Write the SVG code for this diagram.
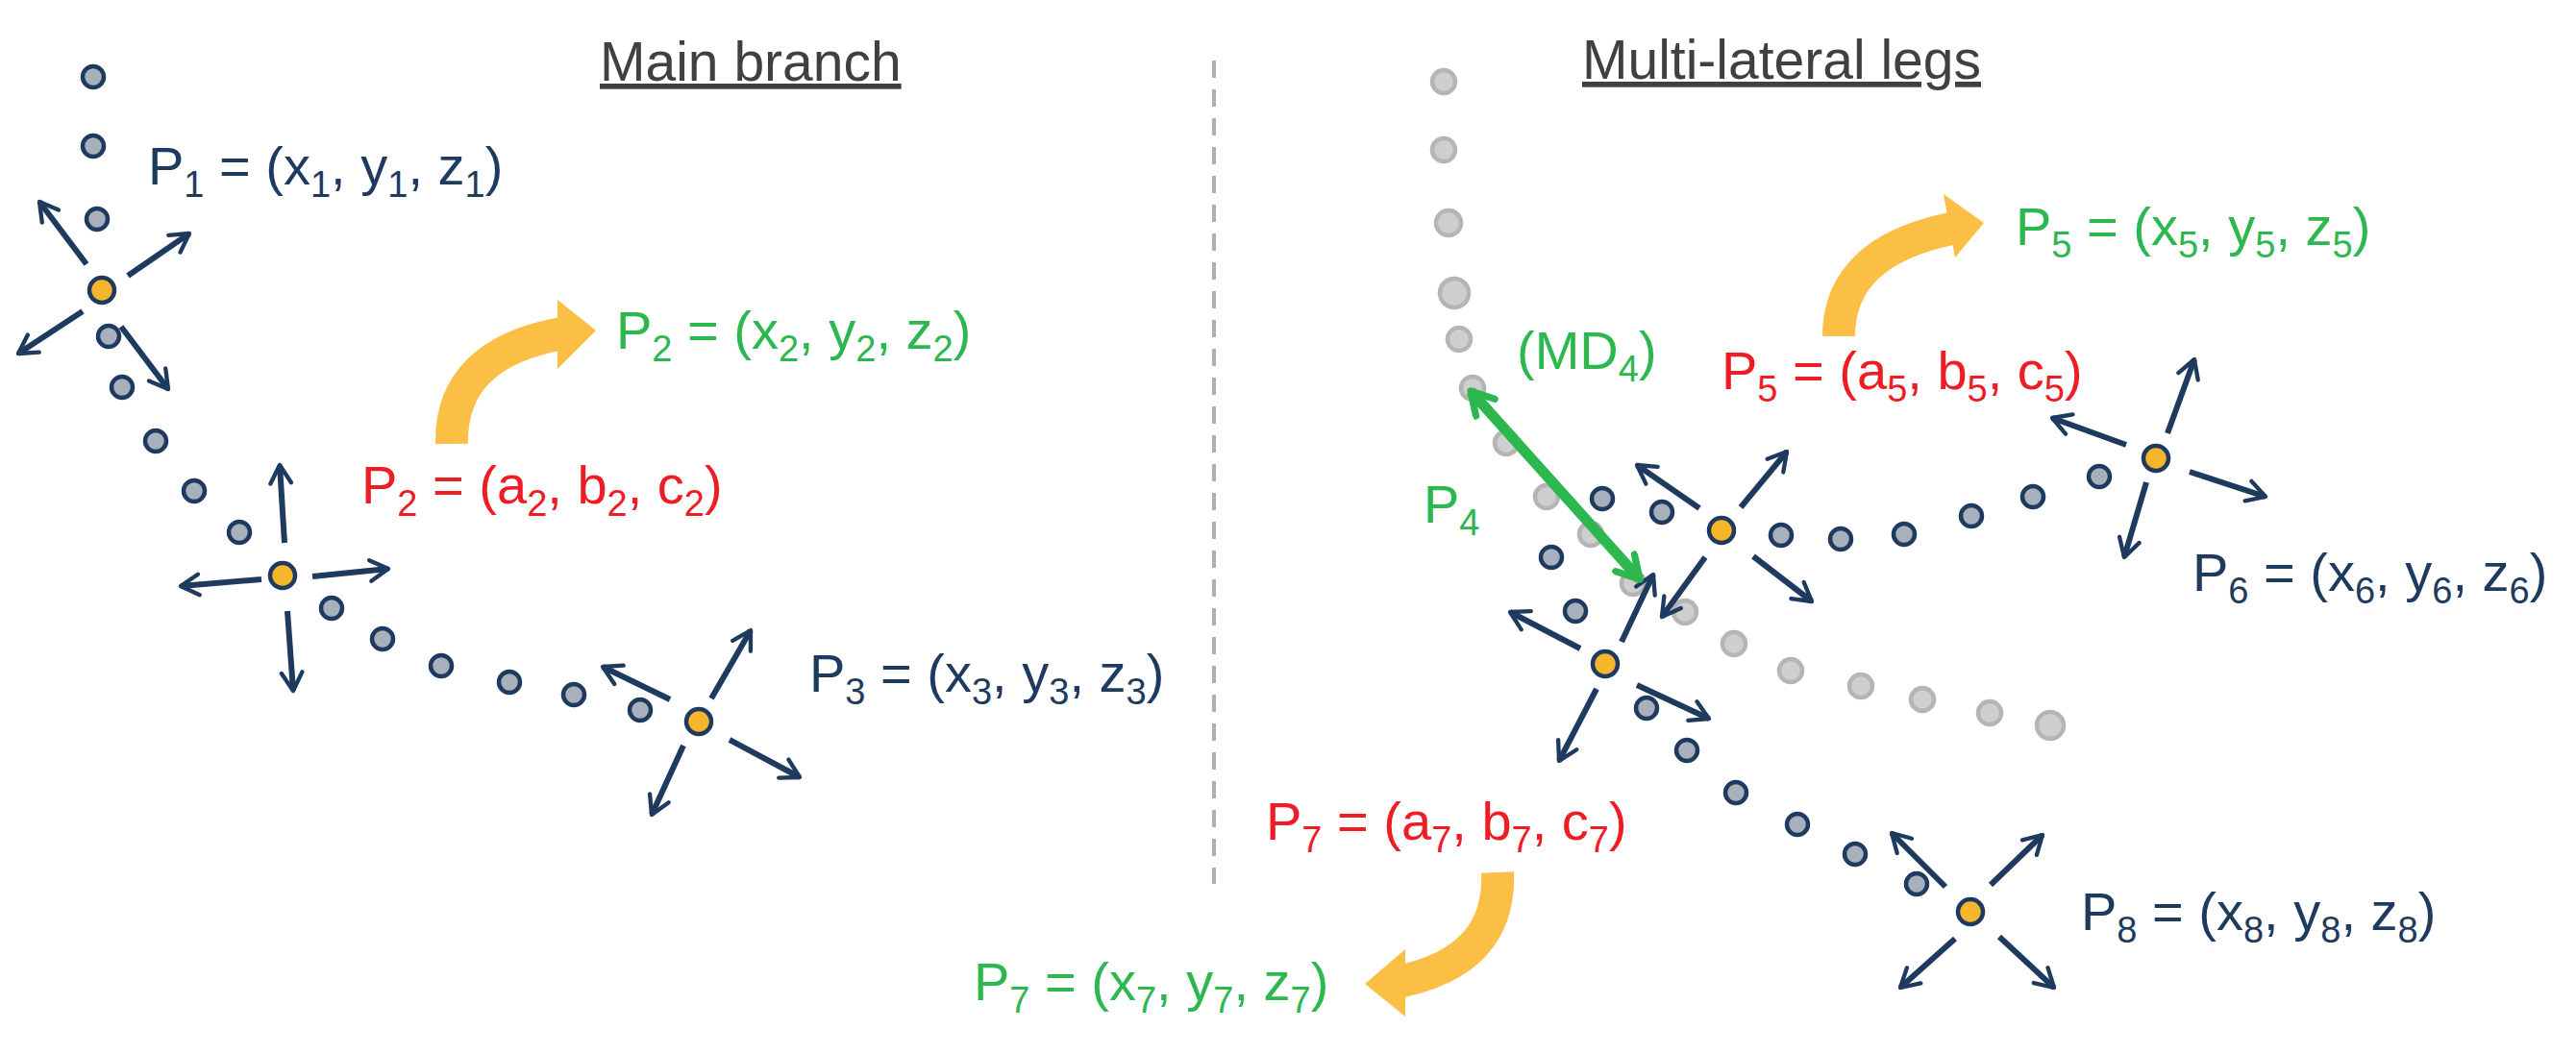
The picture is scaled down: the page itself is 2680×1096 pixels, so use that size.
<svg xmlns="http://www.w3.org/2000/svg" width="2680" height="1096" viewBox="0 0 2680 1096">
<defs>
<marker id="ah" viewBox="0 0 10 10" refX="8" refY="5" markerWidth="4.5" markerHeight="4.5" orient="auto" markerUnits="strokeWidth"><path d="M1,1 L8,5 L1,9" fill="none" stroke="#1f3a5f" stroke-width="1.6" stroke-linecap="round" stroke-linejoin="round"/></marker>
<marker id="gh" viewBox="0 0 10 10" refX="8" refY="5" markerWidth="3" markerHeight="3" orient="auto-start-reverse" markerUnits="strokeWidth"><path d="M1,1 L8,5 L1,9" fill="none" stroke="#2cb84e" stroke-width="2.2" stroke-linecap="round" stroke-linejoin="round"/></marker>
</defs>
<style>
text{font-family:"Liberation Sans",Arial,sans-serif;font-size:56px}
.h{font-size:57px;fill:#404040;text-decoration:underline}
.n{fill:#1f3a5f}.r{fill:#ee1c25}.g{fill:#2cb84e}
.s{font-size:38px}
.d{fill:#a8b0bb;stroke:#1f3a5f;stroke-width:4.5}
.l{fill:#cfcfcf;stroke:#b5b5b5;stroke-width:4.5}
.y{fill:#f6b62c;stroke:#1f3a5f;stroke-width:4.5}
.a line{stroke:#1f3a5f;stroke-width:6;marker-end:url(#ah)}
.o{fill:none;stroke:#fbbf45;stroke-width:34}
.oh{fill:#fbbf45}
</style>
<line x1="1263" y1="63" x2="1263" y2="920" stroke="#b0b0b0" stroke-width="4" stroke-dasharray="18,12"/>
<text class="h" x="624" y="84">Main branch</text>
<text class="h" x="1646" y="82">Multi-lateral legs</text>
<g id="trajectory-dots">
<circle class="l" cx="1502" cy="85" r="12"/><circle class="l" cx="1502" cy="156" r="12"/><circle class="l" cx="1507" cy="232" r="13"/><circle class="l" cx="1513" cy="305" r="15"/><circle class="l" cx="1518" cy="353" r="12"/><circle class="l" cx="1532" cy="404" r="12"/><circle class="l" cx="1567" cy="461" r="12"/><circle class="l" cx="1609" cy="517" r="12"/><circle class="l" cx="1655" cy="556" r="12"/><circle class="l" cx="1699" cy="607" r="12"/><circle class="l" cx="1753" cy="637" r="12"/><circle class="l" cx="1804" cy="670" r="12"/><circle class="l" cx="1863" cy="698" r="12"/><circle class="l" cx="1936" cy="714" r="12"/><circle class="l" cx="2000" cy="728" r="12"/><circle class="l" cx="2070" cy="742" r="12"/><circle class="l" cx="2133" cy="755" r="14"/>
<circle class="d" cx="97" cy="80" r="11"/><circle class="d" cx="97" cy="152" r="11"/><circle class="d" cx="101" cy="228" r="11"/><circle class="d" cx="113" cy="350" r="11"/><circle class="d" cx="127" cy="403" r="11"/><circle class="d" cx="162" cy="459" r="11"/><circle class="d" cx="202" cy="511" r="11"/><circle class="d" cx="249" cy="554" r="11"/><circle class="d" cx="345" cy="633" r="11"/><circle class="d" cx="398" cy="665" r="11"/><circle class="d" cx="459" cy="693" r="11"/><circle class="d" cx="530" cy="710" r="11"/><circle class="d" cx="597" cy="723" r="11"/><circle class="d" cx="666" cy="739" r="11"/>
<circle class="d" cx="1667" cy="519" r="11"/><circle class="d" cx="1729" cy="533" r="11"/><circle class="d" cx="1853" cy="557" r="11"/><circle class="d" cx="1915" cy="561" r="11"/><circle class="d" cx="1981" cy="556" r="11"/><circle class="d" cx="2051" cy="537" r="11"/><circle class="d" cx="2115" cy="517" r="11"/><circle class="d" cx="2184" cy="496" r="11"/>
<circle class="d" cx="1614" cy="580" r="11"/><circle class="d" cx="1639" cy="636" r="11"/><circle class="d" cx="1713" cy="737" r="11"/><circle class="d" cx="1755" cy="781" r="11"/><circle class="d" cx="1806" cy="825" r="11"/><circle class="d" cx="1870" cy="858" r="11"/><circle class="d" cx="1930" cy="889" r="11"/><circle class="d" cx="1994" cy="920" r="11"/>
</g>
<g id="connectors">
<g class="a">
<line x1="90" y1="275" x2="41" y2="210"/><line x1="133" y1="287" x2="197" y2="243"/><line x1="86" y1="324" x2="19" y2="368"/><line x1="126" y1="340" x2="175" y2="405"/>
<line x1="296" y1="565" x2="291" y2="484"/><line x1="325" y1="600" x2="404" y2="592"/><line x1="272" y1="603" x2="188" y2="610"/><line x1="299" y1="636" x2="305" y2="719"/>
<line x1="740" y1="727" x2="781" y2="656"/><line x1="697" y1="728" x2="627" y2="694"/><line x1="711" y1="776" x2="678" y2="848"/><line x1="759" y1="770" x2="832" y2="809"/>
<line x1="1768" y1="529" x2="1703" y2="484"/><line x1="1811" y1="528" x2="1859" y2="470"/><line x1="1774" y1="580" x2="1729" y2="642"/><line x1="1824" y1="579" x2="1885" y2="626"/>
<line x1="2212" y1="463" x2="2135" y2="435"/><line x1="2255" y1="451" x2="2283" y2="374"/><line x1="2278" y1="491" x2="2357" y2="517"/><line x1="2233" y1="502" x2="2210" y2="580"/>
<line x1="1644" y1="675" x2="1571" y2="637"/><line x1="1687" y1="668" x2="1720" y2="598"/><line x1="1661" y1="717" x2="1622" y2="792"/><line x1="1703" y1="713" x2="1778" y2="748"/>
<line x1="2024" y1="923" x2="1968" y2="867"/><line x1="2071" y1="921" x2="2125" y2="869"/><line x1="2034" y1="977" x2="1977" y2="1028"/><line x1="2080" y1="975" x2="2137" y2="1028"/>
</g>
<line x1="1530" y1="407" x2="1706" y2="603" stroke="#2cb84e" stroke-width="11" marker-start="url(#gh)" marker-end="url(#gh)"/>
<path class="o" d="M470,462 Q468,368 585,347"/><polygon class="oh" points="580,312 620,344 580,384"/>
<path class="o" d="M1913,350 Q1913,262 2030,238"/><polygon class="oh" points="2022,202 2064,232 2034,268"/>
<path class="o" d="M1558,908 Q1562,1000 1455,1022"/><polygon class="oh" points="1462,988 1420,1024 1462,1058"/>
</g>
<g id="node-P1"><circle class="y" cx="106" cy="302" r="13"/><text class="n" x="154" y="192">P<tspan class="s" dy="13">1</tspan><tspan dy="-13"> = (x</tspan><tspan class="s" dy="13">1</tspan><tspan dy="-13">, y</tspan><tspan class="s" dy="13">1</tspan><tspan dy="-13">, z</tspan><tspan class="s" dy="13">1</tspan><tspan dy="-13">)</tspan></text></g>
<g id="node-P2"><circle class="y" cx="294" cy="599" r="13"/>
<text class="r" x="376" y="524">P<tspan class="s" dy="13">2</tspan><tspan dy="-13"> = (a</tspan><tspan class="s" dy="13">2</tspan><tspan dy="-13">, b</tspan><tspan class="s" dy="13">2</tspan><tspan dy="-13">, c</tspan><tspan class="s" dy="13">2</tspan><tspan dy="-13">)</tspan></text>
<text class="g" x="641" y="363">P<tspan class="s" dy="13">2</tspan><tspan dy="-13"> = (x</tspan><tspan class="s" dy="13">2</tspan><tspan dy="-13">, y</tspan><tspan class="s" dy="13">2</tspan><tspan dy="-13">, z</tspan><tspan class="s" dy="13">2</tspan><tspan dy="-13">)</tspan></text></g>
<g id="node-P3"><circle class="y" cx="727" cy="751" r="13"/><text class="n" x="842" y="720">P<tspan class="s" dy="13">3</tspan><tspan dy="-13"> = (x</tspan><tspan class="s" dy="13">3</tspan><tspan dy="-13">, y</tspan><tspan class="s" dy="13">3</tspan><tspan dy="-13">, z</tspan><tspan class="s" dy="13">3</tspan><tspan dy="-13">)</tspan></text></g>
<g id="node-P4"><text class="g" x="1481" y="544">P<tspan class="s" dy="13">4</tspan></text><text class="g" x="1578" y="384">(MD<tspan class="s" dy="13">4</tspan><tspan dy="-13">)</tspan></text></g>
<g id="node-P5"><circle class="y" cx="1791" cy="552" r="13"/>
<text class="r" x="1791" y="405">P<tspan class="s" dy="13">5</tspan><tspan dy="-13"> = (a</tspan><tspan class="s" dy="13">5</tspan><tspan dy="-13">, b</tspan><tspan class="s" dy="13">5</tspan><tspan dy="-13">, c</tspan><tspan class="s" dy="13">5</tspan><tspan dy="-13">)</tspan></text>
<text class="g" x="2097" y="255">P<tspan class="s" dy="13">5</tspan><tspan dy="-13"> = (x</tspan><tspan class="s" dy="13">5</tspan><tspan dy="-13">, y</tspan><tspan class="s" dy="13">5</tspan><tspan dy="-13">, z</tspan><tspan class="s" dy="13">5</tspan><tspan dy="-13">)</tspan></text></g>
<g id="node-P6"><circle class="y" cx="2243" cy="477" r="13"/><text class="n" x="2281" y="615">P<tspan class="s" dy="13">6</tspan><tspan dy="-13"> = (x</tspan><tspan class="s" dy="13">6</tspan><tspan dy="-13">, y</tspan><tspan class="s" dy="13">6</tspan><tspan dy="-13">, z</tspan><tspan class="s" dy="13">6</tspan><tspan dy="-13">)</tspan></text></g>
<g id="node-P7"><circle class="y" cx="1670" cy="691" r="13"/>
<text class="r" x="1317" y="874">P<tspan class="s" dy="13">7</tspan><tspan dy="-13"> = (a</tspan><tspan class="s" dy="13">7</tspan><tspan dy="-13">, b</tspan><tspan class="s" dy="13">7</tspan><tspan dy="-13">, c</tspan><tspan class="s" dy="13">7</tspan><tspan dy="-13">)</tspan></text>
<text class="g" x="1013" y="1041">P<tspan class="s" dy="13">7</tspan><tspan dy="-13"> = (x</tspan><tspan class="s" dy="13">7</tspan><tspan dy="-13">, y</tspan><tspan class="s" dy="13">7</tspan><tspan dy="-13">, z</tspan><tspan class="s" dy="13">7</tspan><tspan dy="-13">)</tspan></text></g>
<g id="node-P8"><circle class="y" cx="2050" cy="949" r="13"/><text class="n" x="2165" y="968">P<tspan class="s" dy="13">8</tspan><tspan dy="-13"> = (x</tspan><tspan class="s" dy="13">8</tspan><tspan dy="-13">, y</tspan><tspan class="s" dy="13">8</tspan><tspan dy="-13">, z</tspan><tspan class="s" dy="13">8</tspan><tspan dy="-13">)</tspan></text></g>
</svg>
